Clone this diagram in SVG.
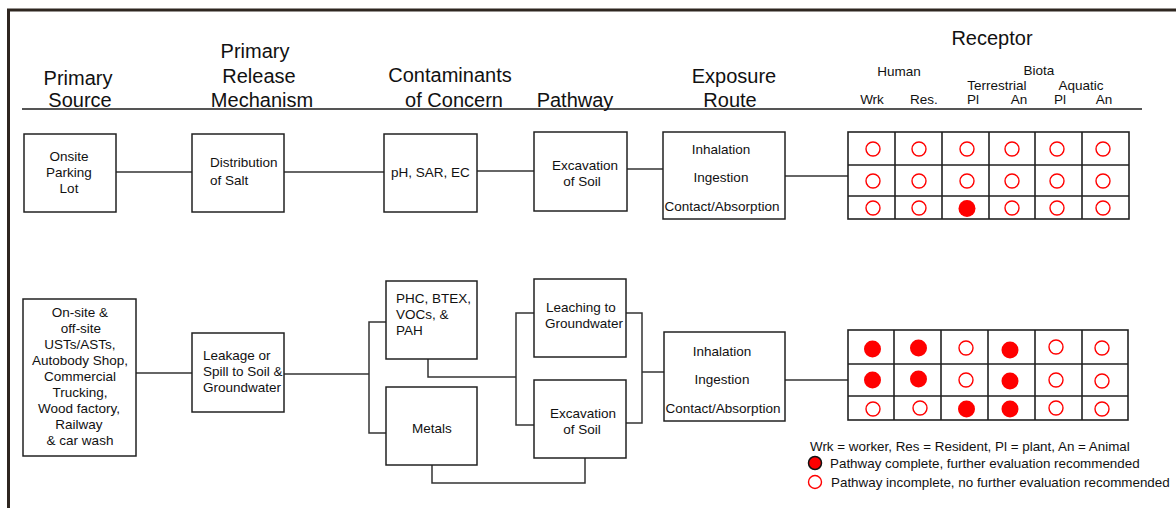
<svg xmlns="http://www.w3.org/2000/svg" width="1176" height="508" viewBox="0 0 1176 508">
<style>
text{font-family:"Liberation Sans",Arial,sans-serif;fill:#111}
.h{font-size:20px;text-anchor:middle}
.s{font-size:13.5px;text-anchor:middle}
.l{font-size:13.5px}
.box{fill:#fff;stroke:#222;stroke-width:1.5}
.ln{fill:none;stroke:#333;stroke-width:1.5}
.grid{fill:none;stroke:#222;stroke-width:1.6}
.o{fill:none;stroke:#f00;stroke-width:1.4}
.f{fill:#f00}
</style>
<rect width="1176" height="508" fill="#fff"/>
<g id="frame">
<path d="M8.5,508 V10 H1176" fill="none" stroke="#2e2620" stroke-width="3"/>
<line x1="22" y1="109" x2="1142" y2="109" stroke="#555" stroke-width="2"/>
</g>
<g id="headers">
<text class="h" x="78" y="85">Primary</text>
<text class="h" x="80" y="107">Source</text>
<text class="h" x="255" y="58">Primary</text>
<text class="h" x="259" y="83">Release</text>
<text class="h" x="262" y="107">Mechanism</text>
<text class="h" x="450" y="82">Contaminants</text>
<text class="h" x="454" y="107">of Concern</text>
<text class="h" x="575" y="107">Pathway</text>
<text class="h" x="734" y="83">Exposure</text>
<text class="h" x="730" y="107">Route</text>
<text class="h" x="992" y="45">Receptor</text>
<text class="s" x="899" y="76">Human</text>
<text class="s" x="1039" y="75">Biota</text>
<text class="s" x="997" y="90">Terrestrial</text>
<text class="s" x="1081" y="90">Aquatic</text>
<text class="s" x="872" y="104">Wrk</text>
<text class="s" x="924" y="104">Res.</text>
<text class="s" x="973" y="104">Pl</text>
<text class="s" x="1019" y="104">An</text>
<text class="s" x="1060" y="104">Pl</text>
<text class="s" x="1104" y="104">An</text>
</g>
<g id="connectors">
<line class="ln" x1="116" y1="172" x2="192" y2="172"/>
<line class="ln" x1="284" y1="172" x2="384" y2="172"/>
<line class="ln" x1="477" y1="171" x2="534" y2="171"/>
<line class="ln" x1="627" y1="169" x2="663" y2="169"/>
<line class="ln" x1="785" y1="176" x2="848" y2="176"/>
<line class="ln" x1="136" y1="373" x2="192" y2="373"/>
<line class="ln" x1="284" y1="374" x2="369" y2="374"/>
<path class="ln" d="M386,322 H369 V433 H386"/>
<path class="ln" d="M428,359 V377 H516"/>
<path class="ln" d="M534,313 H516 V425 H534"/>
<path class="ln" d="M432,465 V483 H585 V458"/>
<path class="ln" d="M626,313 H642 V423 H626"/>
<line class="ln" x1="642" y1="372" x2="664" y2="372"/>
<line class="ln" x1="785" y1="380" x2="848" y2="380"/>
</g>
<g id="n-onsite">
<rect class="box" x="24" y="134" width="92" height="78"/>
<text class="s" x="69" y="161">Onsite</text>
<text class="s" x="69" y="177">Parking</text>
<text class="s" x="69" y="193">Lot</text>
</g>
<g id="n-salt">
<rect class="box" x="192" y="134" width="92" height="78"/>
<text class="l" x="210" y="167">Distribution</text>
<text class="l" x="210" y="185">of Salt</text>
</g>
<g id="n-ph">
<rect class="box" x="384" y="134" width="93" height="78"/>
<text class="l" x="391" y="177">pH, SAR, EC</text>
</g>
<g id="n-exc1">
<rect class="box" x="534" y="132" width="93" height="79"/>
<text class="s" x="585" y="170">Excavation</text>
<text class="s" x="582" y="186">of Soil</text>
</g>
<g id="n-route1">
<rect class="box" x="663" y="132" width="122" height="87"/>
<text class="s" x="721" y="154">Inhalation</text>
<text class="s" x="721" y="182">Ingestion</text>
<text class="s" x="722" y="211">Contact/Absorption</text>
</g>
<g id="n-grid1">
<rect class="grid" x="848" y="132" width="281" height="87"/>
<path class="grid" d="M895,132V219M942,132V219M989,132V219M1035,132V219M1082,132V219M848,165H1129M848,196H1129"/>
<g class="o">
<circle cx="873" cy="149" r="7"/><circle cx="919" cy="149" r="7"/><circle cx="967" cy="149" r="7"/><circle cx="1012" cy="149" r="7"/><circle cx="1057" cy="149" r="7"/><circle cx="1103" cy="149" r="7"/>
<circle cx="873" cy="181" r="7"/><circle cx="919" cy="181" r="7"/><circle cx="967" cy="181" r="7"/><circle cx="1012" cy="181" r="7"/><circle cx="1057" cy="181" r="7"/><circle cx="1103" cy="181" r="7"/>
<circle cx="873" cy="208" r="7"/><circle cx="919" cy="208" r="7"/><circle cx="1012" cy="208" r="7"/><circle cx="1057" cy="208" r="7"/><circle cx="1103" cy="208" r="7"/>
</g>
<circle class="f" cx="967" cy="208.5" r="8.5"/>
</g>
<g id="n-sources">
<rect class="box" x="23" y="299" width="113" height="157"/>
<text class="s" x="80" y="317">On-site &amp;</text>
<text class="s" x="81" y="333">off-site</text>
<text class="s" x="80" y="349">USTs/ASTs,</text>
<text class="s" x="80" y="365">Autobody Shop,</text>
<text class="s" x="80" y="381">Commercial</text>
<text class="s" x="80" y="397">Trucking,</text>
<text class="s" x="79" y="413">Wood factory,</text>
<text class="s" x="79" y="429">Railway</text>
<text class="s" x="80" y="445">&amp; car wash</text>
</g>
<g id="n-leak">
<rect class="box" x="192" y="333" width="92" height="79"/>
<text class="l" x="203" y="360">Leakage or</text>
<text class="l" x="203" y="376">Spill to Soil &amp;</text>
<text class="l" x="203" y="392">Groundwater</text>
</g>
<g id="n-phc">
<rect class="box" x="386" y="281" width="91" height="78"/>
<text class="l" x="396" y="303">PHC, BTEX,</text>
<text class="l" x="396" y="319">VOCs, &amp;</text>
<text class="l" x="396" y="335">PAH</text>
</g>
<g id="n-metals">
<rect class="box" x="386" y="387" width="91" height="78"/>
<text class="s" x="432" y="433">Metals</text>
</g>
<g id="n-leach">
<rect class="box" x="534" y="279" width="92" height="78"/>
<text class="l" x="546" y="312">Leaching to</text>
<text class="l" x="545" y="328">Groundwater</text>
</g>
<g id="n-exc2">
<rect class="box" x="534" y="380" width="92" height="78"/>
<text class="s" x="583" y="418">Excavation</text>
<text class="s" x="582" y="434">of Soil</text>
</g>
<g id="n-route2">
<rect class="box" x="664" y="332" width="121" height="89"/>
<text class="s" x="722" y="356">Inhalation</text>
<text class="s" x="722" y="384">Ingestion</text>
<text class="s" x="723" y="413">Contact/Absorption</text>
</g>
<g id="n-grid2">
<rect class="grid" x="848" y="330" width="280" height="90"/>
<path class="grid" d="M894,330V420M941,330V420M988,330V420M1035,330V420M1082,330V420M848,364H1128M848,396H1128"/>
<g class="o">
<circle cx="966" cy="348" r="7"/><circle cx="1056" cy="347" r="7"/><circle cx="1102" cy="348" r="7"/>
<circle cx="966" cy="380" r="7"/><circle cx="1056" cy="380" r="7"/><circle cx="1102" cy="381" r="7"/>
<circle cx="873" cy="409" r="7"/><circle cx="920" cy="408" r="7"/><circle cx="1056" cy="408" r="7"/><circle cx="1102" cy="409" r="7"/>
</g>
<g class="f">
<circle cx="872.5" cy="349" r="8.5"/><circle cx="918.5" cy="348" r="8.5"/><circle cx="1010" cy="350" r="8.5"/>
<circle cx="872.5" cy="380" r="8.5"/><circle cx="918.5" cy="379" r="8.5"/><circle cx="1010" cy="381" r="8.5"/>
<circle cx="966.5" cy="409" r="8.5"/><circle cx="1010" cy="409" r="8.5"/>
</g>
</g>
<g id="legend">
<text class="l" x="810" y="451" style="font-size:13.4px">Wrk = worker, Res = Resident, Pl = plant, An = Animal</text>
<circle cx="815" cy="463" r="6.5" fill="#f00" stroke="#111" stroke-width="1.5"/>
<text class="l" x="830" y="468" style="font-size:13.4px">Pathway complete, further evaluation recommended</text>
<circle cx="815" cy="482" r="6.5" fill="none" stroke="#f00" stroke-width="1.4"/>
<text class="l" x="831" y="487" style="font-size:13.4px">Pathway incomplete, no further evaluation recommended</text>
</g>
</svg>
